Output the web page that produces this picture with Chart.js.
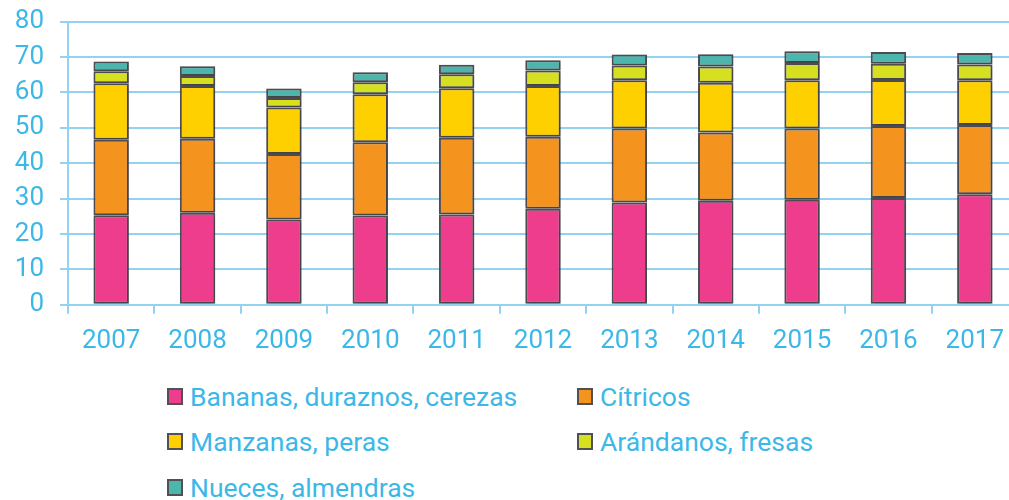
<!DOCTYPE html>
<html>
<head>
<meta charset="utf-8">
<script src="https://cdn.jsdelivr.net/npm/chart.js@4"></script>
<style>
  html, body { margin: 0; padding: 0; background: #fff; }
  #wrap { position: absolute; left: 0; top: 0; width: 1009px; height: 500px; overflow: hidden; }
  #chart { position: absolute; left: 0; top: -10px; }
  #legend { position: absolute; left: 167px; top: 380px; width: 842px; font-family: Roboto, sans-serif; font-size: 26.5px; color: #3cb8e8; }
  .item { position: absolute; display: flex; align-items: center; white-space: nowrap; height: 32px; }
  .box { width: 12px; height: 13px; border: 2px solid #505056; margin-right: 7px; }
</style>
</head>
<body>
<div id="wrap">
  <canvas id="chart" width="1020" height="379"></canvas>
  <div id="legend"></div>
</div>
<script>
// --- data ---
const years = ['2007', '2008', '2009', '2010', '2011', '2012', '2013', '2014', '2015', '2016', '2017'];
const bananas = [25.3, 26.0, 24.1, 25.2, 25.5, 27.1, 28.9, 29.4, 29.7, 30.2, 31.2];
const citricos = [21.3, 20.9, 18.5, 20.7, 21.7, 20.4, 20.9, 19.3, 20.1, 20.3, 19.6];
const manzanas = [16.0, 14.9, 13.1, 13.6, 14.0, 14.3, 13.6, 14.0, 13.6, 13.0, 12.6];
const arandanos = [3.4, 2.8, 2.7, 3.4, 3.9, 4.4, 4.2, 4.6, 4.9, 4.6, 4.5];
const nueces = [2.7, 2.8, 2.7, 2.8, 2.7, 2.9, 3.1, 3.5, 3.3, 3.3, 3.2];
const seriesNames = ['Bananas, duraznos, cerezas', 'Cítricos', 'Manzanas, peras', 'Arándanos, fresas', 'Nueces, almendras'];
const yTicks = [0, 10, 20, 30, 40, 50, 60, 70, 80];

const seriesColors = ['#ee3d8c', '#f5931f', '#ffd000', '#d6df20', '#4db6ac'];
const edge = '#4f4f55';
const textBlue = '#3cb8e8';
const gridBlue = '#93d2f0';

const seriesData = [bananas, citricos, manzanas, arandanos, nueces];

// soft shadow behind the bars
const barShadow = {
    id: 'barShadow',
    beforeDatasetsDraw(chart) {
        const c = chart.ctx;
        c.save();
        c.shadowColor = 'rgba(0,0,0,0.25)';
        c.shadowBlur = 4;
        c.shadowOffsetX = 1;
        c.shadowOffsetY = 1;
    },
    afterDatasetsDraw(chart) {
        chart.ctx.restore();
    }
};

const chart = new Chart(document.getElementById('chart').getContext('2d'), {
    type: 'bar',
    data: {
        labels: years,
        datasets: seriesNames.map((name, i) => ({
            label: name,
            data: seriesData[i],
            backgroundColor: seriesColors[i],
            borderColor: edge,
            borderWidth: 2,
            borderSkipped: false,
            categoryPercentage: 1,
            barPercentage: 0.41
        }))
    },
    options: {
        responsive: false,
        animation: false,
        devicePixelRatio: 1,
        layout: { padding: { top: 10, right: 2, left: 0, bottom: 0 } },
        plugins: { legend: { display: false }, tooltip: { enabled: false } },
        scales: {
            x: {
                stacked: true,
                border: { color: gridBlue, width: 2 },
                grid: { drawOnChartArea: false, color: gridBlue, lineWidth: 2, tickLength: 9 },
                ticks: { color: textBlue, font: { family: 'Roboto', size: 26 }, padding: 12 }
            },
            y: {
                stacked: true,
                min: 0,
                max: 80,
                afterFit: (s) => { s.width = 68; },
                afterBuildTicks: (s) => { s.ticks = yTicks.map(v => ({ value: v })); },
                border: { color: gridBlue, width: 2 },
                grid: { color: gridBlue, lineWidth: 2, tickLength: 8 },
                ticks: { color: textBlue, font: { family: 'Roboto', size: 26 }, padding: 16 }
            }
        }
    },
    plugins: [barShadow]
});

// --- html legend, two columns ---
const legend = document.getElementById('legend');
seriesNames.forEach((name, i) => {
    const div = document.createElement('div');
    div.className = 'item';
    div.style.left = (i % 2 === 0 ? 0 : 410) + 'px';
    div.style.top = (Math.floor(i / 2) * 45.5) + 'px';
    div.innerHTML = `<span class="box" style="background:${seriesColors[i]}"></span>${name}`;
    legend.appendChild(div);
});
</script>
</body>
</html>
